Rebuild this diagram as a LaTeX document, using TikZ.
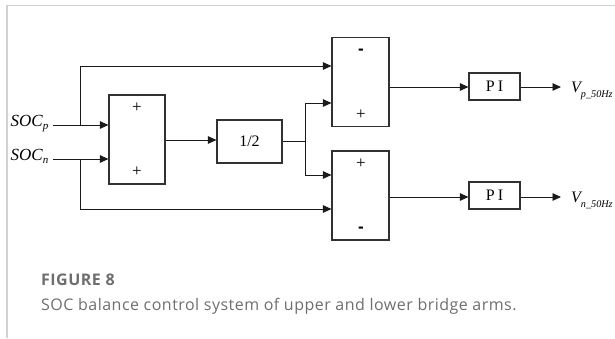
\documentclass[tikz,border=0pt]{standalone}
\usepackage{fontspec}
\setmainfont{Liberation Serif}
\setsansfont{Liberation Sans}
\newfontfamily\capfont[LetterSpace=3]{Open Sans}
\usetikzlibrary{arrows.meta}
\definecolor{framegray}{HTML}{D2D2D2}
\definecolor{capgray}{HTML}{6E6E6E}
\definecolor{linec}{HTML}{1A1A1A}
\tikzset{
  blk/.style={draw=linec!90, line width=1.1pt, inner sep=0pt, fill=white},
  conn/.style={draw=linec, line width=0.9pt},
  arr/.style={conn, -{Triangle[length=8.5pt,width=7.5pt]}},
  sgn/.style={inner sep=0pt, font=\fontsize{17}{17}\selectfont},
  neg/.style={inner sep=0pt, font=\sffamily\bfseries\fontsize{17}{17}\selectfont},
  lbl/.style={inner sep=0pt, font=\fontsize{17}{17}\selectfont\itshape},
}
\begin{document}
\begin{tikzpicture}[x=1pt,y=-1pt]
\useasboundingbox (0,0) rectangle (615,338);
\draw[framegray, line width=1.4pt] (7,338) -- (7,5.5) -- (615,5.5);
% blocks
\node[blk, minimum width=56pt, minimum height=89pt] (sum1) at (137,139.5) {};
\node[blk, minimum width=65pt, minimum height=43pt, font=\fontsize{16}{16}\selectfont] (half) at (249.5,141.5) {1/2};
\node[blk, minimum width=57pt, minimum height=89pt] (sub1) at (360.5,82.3) {};
\node[blk, minimum width=57pt, minimum height=89pt] (sub2) at (360.5,195.5) {};
\node[blk, minimum width=51pt, minimum height=27pt, font=\fontsize{16}{16}\selectfont] (pi1) at (494.5,86.5) {P\hspace{3pt}I};
\node[blk, minimum width=51pt, minimum height=27pt, font=\fontsize{16}{16}\selectfont] (pi2) at (494.5,195.5) {P\hspace{3pt}I};
% signs
\node[sgn] (s1a) at (137,107.5) {+};
\node[sgn] (s1b) at (137,172) {+};
\node[neg] (s2a) at (361,51.5) {-};
\node[sgn] (s2b) at (361,115) {+};
\node[sgn] (s3a) at (361,163.5) {+};
\node[neg] (s3b) at (361,229.5) {-};
% labels
\node[lbl, anchor=base west] (socp) at (10.5,126.7) {SOC\raisebox{-3pt}{\fontsize{11}{11}\selectfont p}};
\node[lbl, anchor=base west] (socn) at (10.5,160.7) {SOC\raisebox{-3pt}{\fontsize{11}{11}\selectfont n}};
\node[lbl, anchor=base west, font=\fontsize{16}{16}\selectfont\itshape] (vp) at (571,92.5) {V\raisebox{-5pt}{\fontsize{10.2}{10.2}\selectfont p\_50Hz}};
\node[lbl, anchor=base west, font=\fontsize{16}{16}\selectfont\itshape] (vn) at (571,202.5) {V\raisebox{-5pt}{\fontsize{10.2}{10.2}\selectfont n\_50Hz}};
% junction coordinates
\coordinate (jp) at (80,125);
\coordinate (jn) at (80,159);
\coordinate (jh) at (305,141);
\coordinate (o1) at (561,87);
\coordinate (o2) at (561,197);
% connectors
\draw[arr] (53,125) -- (sum1.west |- jp);
\draw[arr] (53,159) -- (sum1.west |- jn);
\draw[arr] (jp) -- (80,66) -- (sub1.west |- 0,66);
\draw[arr] (jn) -- (80,209) -- (sub2.west |- 0,209);
\draw[arr] (sum1.east |- 0,140) -- (half.west |- 0,140);
\draw[conn] (half.east |- jh) -- (jh);
\draw[arr] (jh) -- (305,103) -- (sub1.west |- 0,103);
\draw[arr] (jh) -- (305,175) -- (sub2.west |- 0,175);
\draw[arr] (sub1.east |- 0,87) -- (pi1.west |- 0,87);
\draw[arr] (sub2.east |- 0,197) -- (pi2.west |- 0,197);
\draw[arr] (pi1.east |- 0,87) -- (o1);
\draw[arr] (pi2.east |- 0,197) -- (o2);
% caption
\node[anchor=base west, inner sep=0pt, text=capgray, font=\capfont\fontsize{16}{16}\selectfont\bfseries] (cap1) at (41,285) {FIGURE 8};
\node[anchor=base west, inner sep=0pt, text=capgray, font=\capfont\fontsize{16}{16}\selectfont] (cap2) at (41,310) {SOC balance control system of upper and lower bridge arms.};
\end{tikzpicture}
\end{document}
